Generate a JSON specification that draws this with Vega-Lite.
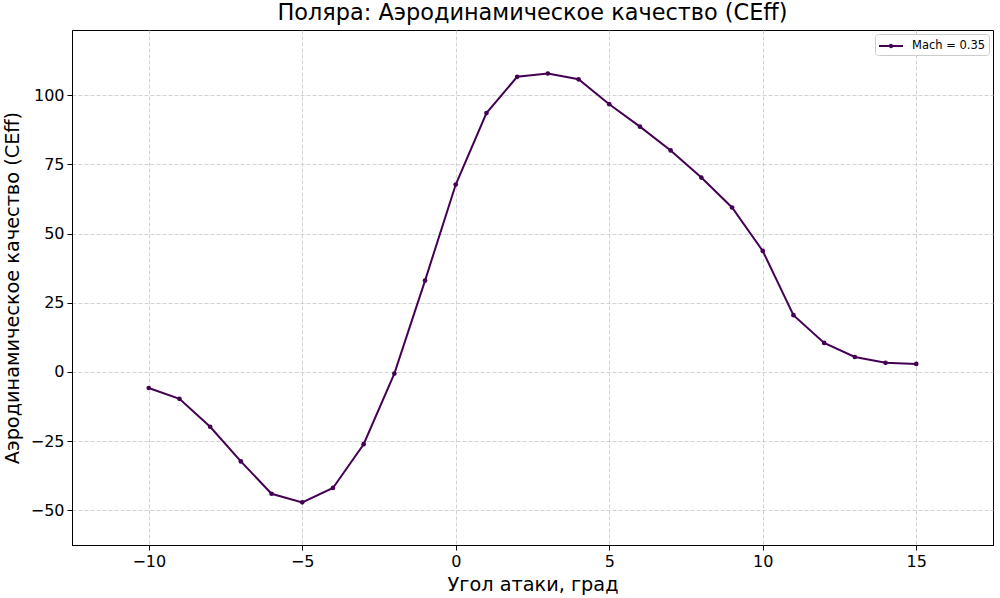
{
  "$schema": "https://vega.github.io/schema/vega-lite/v6.json",
  "autosize": "none",
  "width": 921,
  "height": 515,
  "padding": {"left": 72, "top": 30, "right": 7, "bottom": 53},
  "background": "white",
  "title": {
    "text": "Поляра: Аэродинамическое качество (CEff)",
    "font": "DejaVu Sans",
    "fontSize": 22.4,
    "fontWeight": "normal",
    "color": "black",
    "anchor": "middle",
    "offset": 6
  },
  "config": {
    "view": {"stroke": "black", "strokeWidth": 1},
    "font": "DejaVu Sans"
  },
  "data": {
    "values": [
      {"a": -10, "k": -5.8, "s": "Mach = 0.35"},
      {"a": -9, "k": -9.7, "s": "Mach = 0.35"},
      {"a": -8, "k": -19.8, "s": "Mach = 0.35"},
      {"a": -7, "k": -32.3, "s": "Mach = 0.35"},
      {"a": -6, "k": -44.0, "s": "Mach = 0.35"},
      {"a": -5, "k": -47.1, "s": "Mach = 0.35"},
      {"a": -4, "k": -41.9, "s": "Mach = 0.35"},
      {"a": -3, "k": -26.1, "s": "Mach = 0.35"},
      {"a": -2, "k": -0.6, "s": "Mach = 0.35"},
      {"a": -1, "k": 33.0, "s": "Mach = 0.35"},
      {"a": 0, "k": 67.7, "s": "Mach = 0.35"},
      {"a": 1, "k": 93.5, "s": "Mach = 0.35"},
      {"a": 2, "k": 106.6, "s": "Mach = 0.35"},
      {"a": 3, "k": 107.8, "s": "Mach = 0.35"},
      {"a": 4, "k": 105.7, "s": "Mach = 0.35"},
      {"a": 5, "k": 96.7, "s": "Mach = 0.35"},
      {"a": 6, "k": 88.6, "s": "Mach = 0.35"},
      {"a": 7, "k": 80.0, "s": "Mach = 0.35"},
      {"a": 8, "k": 70.2, "s": "Mach = 0.35"},
      {"a": 9, "k": 59.4, "s": "Mach = 0.35"},
      {"a": 10, "k": 43.7, "s": "Mach = 0.35"},
      {"a": 11, "k": 20.5, "s": "Mach = 0.35"},
      {"a": 12, "k": 10.5, "s": "Mach = 0.35"},
      {"a": 13, "k": 5.4, "s": "Mach = 0.35"},
      {"a": 14, "k": 3.3, "s": "Mach = 0.35"},
      {"a": 15, "k": 2.9, "s": "Mach = 0.35"}
    ]
  },
  "mark": {
    "type": "line",
    "strokeWidth": 2,
    "point": {"filled": true, "size": 22},
    "clip": true
  },
  "encoding": {
    "x": {
      "field": "a",
      "type": "quantitative",
      "scale": {"domain": [-12.5, 17.5], "nice": false, "zero": false},
      "axis": {
        "values": [-10, -5, 0, 5, 10, 15],
        "title": "Угол атаки, град",
        "titleFont": "DejaVu Sans",
        "titleFontSize": 19.3,
        "titleFontWeight": "normal",
        "titleColor": "black",
        "titlePadding": 6,
        "labelFont": "DejaVu Sans",
        "labelFontSize": 16,
        "labelColor": "black",
        "labelPadding": 3,
        "labelExpr": "replace(datum.label, '-', '−')",
        "tickColor": "black",
        "tickSize": 5,
        "domainColor": "black",
        "grid": true,
        "gridColor": "#c8c8c8",
        "gridDash": [4, 2],
        "gridWidth": 0.8
      }
    },
    "y": {
      "field": "k",
      "type": "quantitative",
      "scale": {"domain": [-62.5, 123.5], "nice": false, "zero": false},
      "axis": {
        "values": [-50, -25, 0, 25, 50, 75, 100],
        "title": "Аэродинамическое качество (CEff)",
        "titleFont": "DejaVu Sans",
        "titleFontSize": 19.3,
        "titleFontWeight": "normal",
        "titleColor": "black",
        "titlePadding": 8,
        "labelFont": "DejaVu Sans",
        "labelFontSize": 16,
        "labelColor": "black",
        "labelPadding": 3,
        "labelExpr": "replace(datum.label, '-', '−')",
        "tickColor": "black",
        "tickSize": 5,
        "domainColor": "black",
        "grid": true,
        "gridColor": "#c8c8c8",
        "gridDash": [4, 2],
        "gridWidth": 0.8
      }
    },
    "color": {
      "field": "s",
      "type": "nominal",
      "scale": {"range": ["#440154"]},
      "legend": {
        "title": null,
        "orient": "top-right",
        "offset": 4,
        "padding": 3,
        "strokeColor": "#cccccc",
        "fillColor": "white",
        "cornerRadius": 3,
        "labelFont": "DejaVu Sans",
        "labelFontSize": 11.5,
        "labelColor": "black",
        "labelOffset": 16,
        "symbolType": "M-1,0L2,0M0.35,0a0.15,0.15 0 1,0 0.3,0a0.15,0.15 0 1,0 -0.3,0",
        "symbolSize": 256,
        "symbolStrokeWidth": 2,
        "symbolFillColor": "#440154"
      }
    }
  }
}
